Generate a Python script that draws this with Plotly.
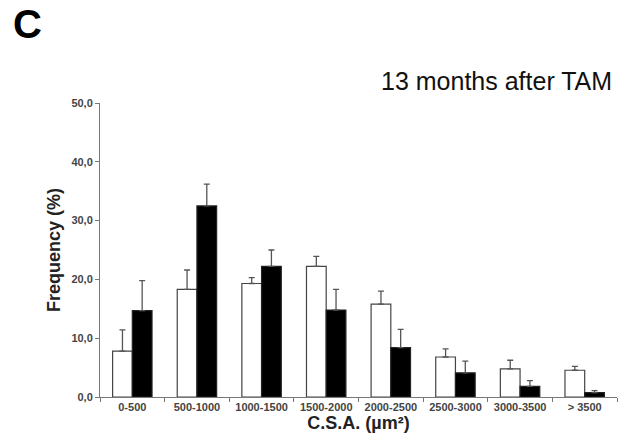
import plotly.graph_objects as go

categories = ["0-500", "500-1000", "1000-1500", "1500-2000", "2000-2500", "2500-3000", "3000-3500", "> 3500"]
white_vals = [7.8, 18.3, 19.3, 22.2, 15.8, 6.8, 4.8, 4.55]
white_err = [3.6, 3.3, 1.0, 1.7, 2.2, 1.4, 1.45, 0.65]
black_vals = [14.7, 32.5, 22.2, 14.8, 8.4, 4.1, 1.8, 0.75]
black_err = [5.1, 3.7, 2.8, 3.5, 3.1, 2.0, 1.0, 0.35]
y_tick_vals = [0, 10, 20, 30, 40, 50]
y_tick_text = ["0,0", "10,0", "20,0", "30,0", "40,0", "50,0"]

FONT = "Liberation Sans, Arial, sans-serif"
W, H = 621, 444
L, R, T, B = 100, 4, 103, 47
pw, ph = W - L - R, H - T - B


def px_to_paper(x, y):
    return (x - L) / pw, (H - B - y) / ph


fig = go.Figure()
fig.add_trace(go.Bar(
    x=categories, y=white_vals,
    marker=dict(color="white", line=dict(color="#444", width=1.2)),
    error_y=dict(type="data", array=white_err, arrayminus=[0] * len(white_err), symmetric=False,
                 color="#555", thickness=1.3, width=3),
    showlegend=False,
))
fig.add_trace(go.Bar(
    x=categories, y=black_vals,
    marker=dict(color="black", line=dict(color="#222", width=1.2)),
    error_y=dict(type="data", array=black_err, arrayminus=[0] * len(black_err), symmetric=False,
                 color="#555", thickness=1.3, width=3),
    showlegend=False,
))

cx, cy = px_to_paper(11, 24)
tx, ty = px_to_paper(614, 81)

fig.update_layout(
    width=W, height=H,
    margin=dict(l=L, r=R, t=T, b=B),
    paper_bgcolor="white", plot_bgcolor="white",
    barmode="group", bargap=0.39, bargroupgap=0,
    font=dict(family=FONT, color="#333"),
    annotations=[
        dict(text="<b>C</b>", x=cx, y=cy, xref="paper", yref="paper", showarrow=False,
             xanchor="left", yanchor="middle", font=dict(size=40, color="black", family=FONT)),
        dict(text="13 months after TAM", x=tx, y=ty, xref="paper", yref="paper", showarrow=False,
             xanchor="right", yanchor="middle", font=dict(size=25, color="#111", family=FONT)),
    ],
)

fig.update_xaxes(
    automargin=False,
    showline=True, linecolor="#777", linewidth=1,
    ticks="outside", tickson="boundaries", ticklen=4, tickcolor="#777",
    tickfont=dict(size=11, color="#444", family=FONT, weight="bold"),
    title=dict(text="<b>C.S.A. (µm²)</b>", font=dict(size=18, color="#222", family=FONT), standoff=2),
    showgrid=False, zeroline=False,
)
fig.update_yaxes(
    automargin=False,
    range=[0, 50], showline=True, linecolor="#777", linewidth=1,
    ticks="outside", ticklen=4, tickcolor="#777",
    tickvals=y_tick_vals, ticktext=y_tick_text,
    tickfont=dict(size=11, color="#444", family=FONT, weight="bold"),
    title=dict(text="<b>Frequency (%)</b>", font=dict(size=18, color="#222", family=FONT), standoff=6),
    showgrid=False, zeroline=False,
)

fig.write_html("out.html", config={"displayModeBar": False},
               post_script="document.body.style.margin='0';")
